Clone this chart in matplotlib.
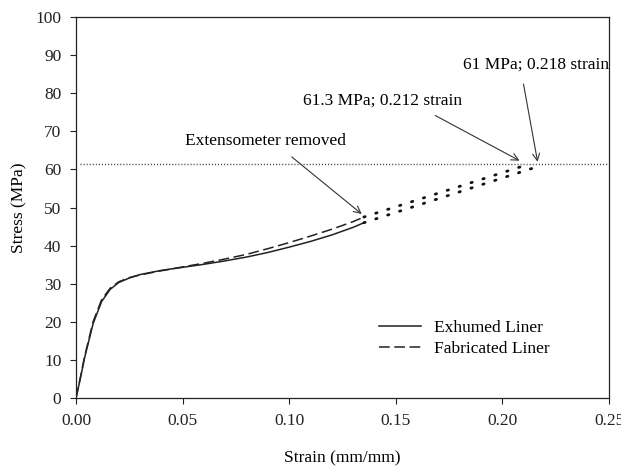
import matplotlib
matplotlib.use("Agg")
import matplotlib.pyplot as plt

# measured curves (up to extensometer removal)
exh_strain = [0, 0.002, 0.004, 0.008, 0.012, 0.016, 0.020, 0.025, 0.030, 0.040, 0.050,
              0.060, 0.070, 0.080, 0.090, 0.100, 0.110, 0.120, 0.130, 0.135]
exh_stress = [0, 5.0, 10.5, 19.5, 25.3, 28.5, 30.3, 31.5, 32.4, 33.5, 34.3,
              35.1, 36.0, 37.0, 38.2, 39.6, 41.1, 42.8, 44.8, 46.0]
fab_strain = [0, 0.002, 0.004, 0.008, 0.012, 0.016, 0.020, 0.025, 0.030, 0.040, 0.050,
              0.060, 0.070, 0.080, 0.090, 0.100, 0.110, 0.120, 0.130, 0.135]
fab_stress = [0, 5.3, 10.8, 20.0, 25.8, 28.8, 30.5, 31.6, 32.3, 33.4, 34.4,
              35.4, 36.5, 37.7, 39.2, 40.8, 42.5, 44.3, 46.3, 47.5]

# extrapolation after extensometer removed
exh_ext_strain = [0.135, 0.218]
exh_ext_stress = [46.0, 61.0]
fab_ext_strain = [0.135, 0.212]
fab_ext_stress = [47.5, 61.3]

ult_stress = 61.3

plt.rcParams["font.family"] = ["Liberation Serif", "DejaVu Serif"]
plt.rcParams["font.size"] = 12.5

fig = plt.figure(figsize=(6.21, 4.66), dpi=100)
ax = fig.add_axes([0.1224, 0.1459, 0.8583, 0.8176])

ax.plot(exh_strain, exh_stress, color="#222222", lw=1.1, label="Exhumed Liner")
ax.plot(fab_strain, fab_stress, color="#222222", lw=1.1, dashes=(7, 3),
        label="Fabricated Liner")
ax.plot(exh_ext_strain, exh_ext_stress, color="#111111", lw=2.0,
        dashes=(0.5, 4.0), dash_capstyle="round")
ax.plot(fab_ext_strain, fab_ext_stress, color="#111111", lw=2.0,
        dashes=(0.5, 4.0), dash_capstyle="round")
ax.plot([0.002, 0.25], [ult_stress, ult_stress], color="#444444", lw=1.0,
        dashes=(0.8, 1.4))

ax.annotate("Extensometer removed", xy=(0.134, 48.3), xytext=(0.089, 67.5),
            ha="center", va="center",
            arrowprops=dict(arrowstyle="->", color="#333333", lw=0.8,
                            shrinkA=6, shrinkB=0, relpos=(0.6, 0)))
ax.annotate("61.3 MPa; 0.212 strain", xy=(0.208, 62.3), xytext=(0.144, 78),
            ha="center", va="center",
            arrowprops=dict(arrowstyle="->", color="#333333", lw=0.8,
                            shrinkA=6, shrinkB=0, relpos=(0.75, 0)))
ax.annotate("61 MPa; 0.218 strain", xy=(0.2165, 62.0), xytext=(0.2158, 87.4),
            ha="center", va="center",
            arrowprops=dict(arrowstyle="->", color="#333333", lw=0.8,
                            shrinkA=6, shrinkB=0, relpos=(0.4, 0)))

ax.set_xlim(0, 0.25)
ax.set_ylim(0, 100)
ax.set_xticks([0, 0.05, 0.10, 0.15, 0.20, 0.25])
ax.set_xticklabels(["0.00", "0.05", "0.10", "0.15", "0.20", "0.25"])
ax.set_yticks(range(0, 101, 10))
ax.tick_params(direction="out", length=4.5, width=0.8, pad=6, colors="#222222")
for s in ax.spines.values():
    s.set_linewidth(0.9)
    s.set_color("#222222")

ax.set_xlabel("Strain (mm/mm)", labelpad=16)
ax.set_ylabel("Stress (MPa)", labelpad=6)

ax.legend(loc="upper left", bbox_to_anchor=(0.539, 0.246), frameon=False,
          handlelength=2.4, labelspacing=0.3)

fig.savefig("out.png", dpi=100)
